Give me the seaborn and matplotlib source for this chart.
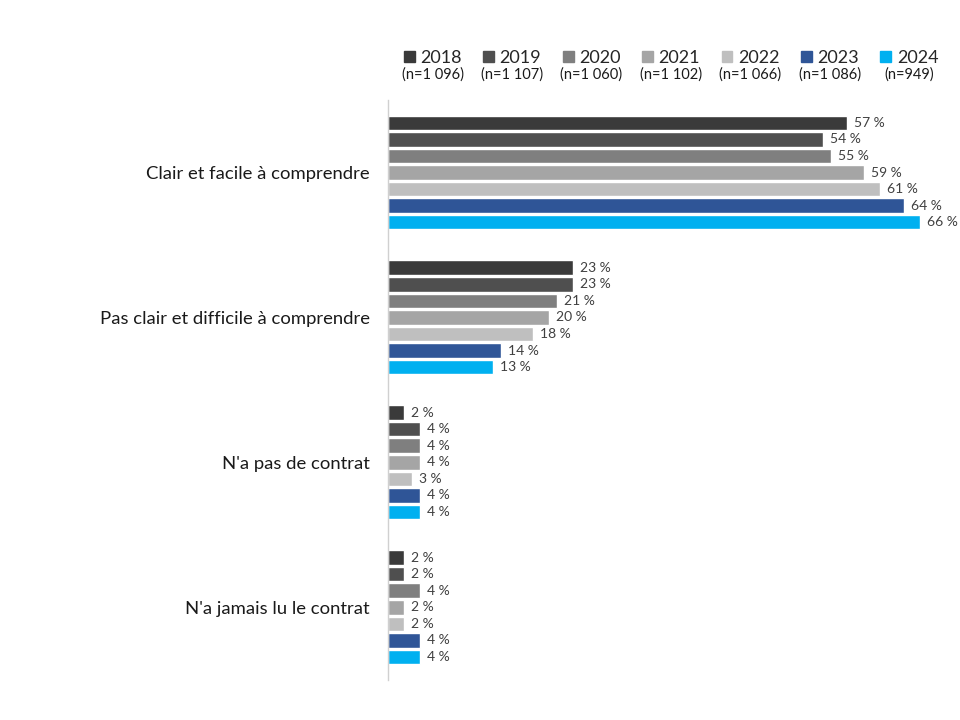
import pandas as pd
import matplotlib.pyplot as plt
import matplotlib.patches as mpatches
import seaborn as sns

# Data
categories = ['Clair et facile à comprendre', 'Pas clair et difficile à comprendre',
              "N'a pas de contrat", "N'a jamais lu le contrat"]
years = ['2018', '2019', '2020', '2021', '2022', '2023', '2024']
sample_sizes = ['(n=1 096)', '(n=1 107)', '(n=1 060)', '(n=1 102)', '(n=1 066)', '(n=1 086)', '(n=949)']
v2018 = [57, 23, 2, 2]
v2019 = [54, 23, 4, 2]
v2020 = [55, 21, 4, 4]
v2021 = [59, 20, 4, 2]
v2022 = [61, 18, 3, 2]
v2023 = [64, 14, 4, 4]
v2024 = [66, 13, 4, 4]
colors = ['#3a3a3a', '#4f4f4f', '#7f7f7f', '#a5a5a5', '#bfbfbf', '#2f5597', '#00b0f0']

series = [v2018, v2019, v2020, v2021, v2022, v2023, v2024]
rows = []
for y, vals in zip(years, series):
    for c, v in zip(categories, vals):
        rows.append({'Catégorie': c, 'Année': y, 'Pct': v})
df = pd.DataFrame(rows)

sns.set_style('white')
plt.rcParams['font.family'] = ['Lato', 'DejaVu Sans']

fig = plt.figure(figsize=(9.6, 7.2), dpi=100)
ax = fig.add_axes([0.404, 0.056, 0.588, 0.805])

sns.barplot(data=df, y='Catégorie', x='Pct', hue='Année', order=categories,
            hue_order=years, palette=colors, saturation=1, orient='h', width=0.8,
            gap=0.12, legend=False, ax=ax)

for cont in ax.containers:
    ax.bar_label(cont, fmt='{:.0f} %', padding=5, fontsize=10, color='#404040')

ax.set_xlim(0, 70)
ax.set_xlabel('')
ax.set_ylabel('')
ax.set_xticks([])
ax.tick_params(axis='y', length=0, pad=13, labelsize=13.3, labelcolor='#1a1a1a')
for s in ['top', 'right', 'bottom']:
    ax.spines[s].set_visible(False)
ax.spines['left'].set_color('#d0d0d0')
ax.spines['left'].set_linewidth(1)

# Legend
handles = [mpatches.Patch(color=c, label=y) for c, y in zip(colors, years)]
leg = fig.legend(handles=handles, loc='center', bbox_to_anchor=(0.699, 0.92), ncol=7,
                 frameon=False, fontsize=13, handlelength=0.6, handleheight=0.6,
                 handletextpad=0.3, columnspacing=1.2)

fig.canvas.draw()
renderer = fig.canvas.get_renderer()
inv = fig.transFigure.inverted()
for txt, h, n in zip(leg.get_texts(), leg.legend_handles, sample_sizes):
    tb = txt.get_window_extent(renderer)
    hb = h.get_window_extent(renderer)
    xc = (hb.x0 + tb.x1) / 2
    yb = tb.y0 - 2
    x_fig, y_fig = inv.transform((xc, yb))
    fig.text(x_fig, y_fig, n, ha='center', va='top', fontsize=10.5, color='#1a1a1a')

fig.savefig('out.png', dpi=100)
plt.close(fig)
